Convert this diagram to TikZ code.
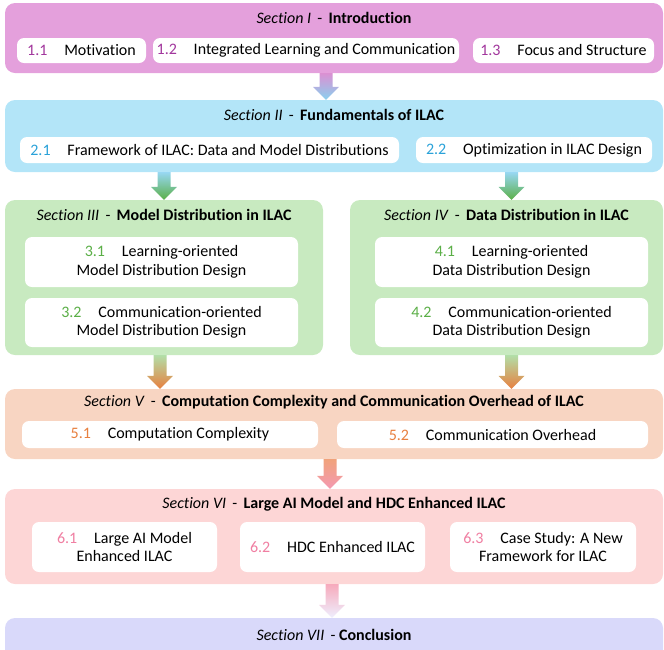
\documentclass[tikz,border=0pt]{standalone}
\usepackage{fontspec}
\setmainfont{Carlito}[Ligatures=NoCommon]
\usetikzlibrary{positioning,calc}

\definecolor{fillI}{HTML}{E4A0DC}
\definecolor{fillII}{HTML}{B3E5F8}
\definecolor{fillIII}{HTML}{C8EAC0}
\definecolor{fillV}{HTML}{F8D5C2}
\definecolor{fillVI}{HTML}{FDD6D6}
\definecolor{fillVII}{HTML}{D9D9FA}
\definecolor{numI}{HTML}{A2379D}
\definecolor{numII}{HTML}{2AA2D9}
\definecolor{numIII}{HTML}{5BAF47}
\definecolor{numV}{HTML}{E8803F}
\definecolor{numVI}{HTML}{F07FA2}

\tikzset{
  section/.style={rounded corners=10pt, inner sep=0pt, anchor=center},
  item/.style={fill=white, rounded corners=7pt, inner sep=0pt, align=center, anchor=center},
  title/.style={inner sep=0pt, anchor=center},
}

% block arrow between two points, shaded from #3 (top) to #4 (bottom)
\newcommand{\blockarrow}[4]{%
  \shade[top color=#3, bottom color=#4] let \p1=#1, \p2=#2 in
    (\x1-6.5pt,\y1) -- (\x1+6.5pt,\y1) -- (\x1+6.5pt,\y2+13pt) -- (\x1+13pt,\y2+13pt)
    -- (\x1,\y2) -- (\x1-13pt,\y2+13pt) -- (\x1-6.5pt,\y2+13pt) -- cycle;}

\newcommand{\num}[2]{{\color{#1}#2}\hspace{1.05em}}

\begin{document}
\begin{tikzpicture}[x=1pt, y=-1pt, font=\fontsize{16}{18.5}\selectfont]
    \useasboundingbox (0,0) rectangle (664,649);

    % section boxes
    \node[section, fill=fillI, minimum width=658pt, minimum height=70pt] (sI) at (334,38) {};
    \node[section, fill=fillII, minimum width=658pt, minimum height=72pt] (sII) at (334,136) {};
    \node[section, fill=fillIII, minimum width=318pt, minimum height=155pt] (sIII) at (164,277.5) {};
    \node[section, fill=fillIII, minimum width=313pt, minimum height=155pt] (sIV) at (506.5,277.5) {};
    \node[section, fill=fillV, minimum width=658pt, minimum height=70pt] (sV) at (334,424) {};
    \node[section, fill=fillVI, minimum width=658pt, minimum height=95pt] (sVI) at (334,536.5) {};
    \node[section, fill=fillVII, minimum width=658pt, minimum height=52pt] (sVII) at (334,644) {};

    % titles
    \node[title] (tI) at (334,18) {\textit{Section I}\, - \,\textbf{Introduction}};
    \node[title] (tII) at (334,115) {\textit{Section II}\, - \,\textbf{Fundamentals of ILAC}};
    \node[title] (tIII) at (164,215) {\textit{Section III}\, - \,\textbf{Model Distribution in ILAC}};
    \node[title] (tIV) at (506.5,215) {\textit{Section IV}\, - \,\textbf{Data Distribution in ILAC}};
    \node[title] (tV) at (334,402) {\textit{Section V}\, - \,\textbf{Computation Complexity and Communication Overhead of ILAC}};
    \node[title] (tVI) at (334,504) {\textit{Section VI}\, - \,\textbf{Large AI Model and HDC Enhanced ILAC}};
    \node[title] (tVII) at (334,635) {\textit{Section VII}\, - \textbf{Conclusion}};

    % items
    \node[item, minimum width=129pt, minimum height=25pt] (i11) at (81.5,50.5) {\num{numI}{1.1}Motivation};
    \node[item, minimum width=306pt, minimum height=25pt] (i12) at (306,50.5) {\num{numI}{1.2}Integrated Learning and Communication};
    \node[item, minimum width=181pt, minimum height=25pt] (i13) at (563.5,50.5) {\num{numI}{1.3}Focus and Structure};

    \node[item, minimum width=379pt, minimum height=26pt] (i21) at (209.5,150) {\num{numII}{2.1}Framework of ILAC: Data and Model Distributions};
    \node[item, minimum width=236pt, minimum height=26pt] (i22) at (534,150) {\num{numII}{2.2}Optimization in ILAC Design};

    \node[item, minimum width=273pt, minimum height=50pt] (i31) at (161.5,262) {\num{numIII}{3.1}Learning-oriented\\Model Distribution Design};
    \node[item, minimum width=273pt, minimum height=49pt] (i32) at (161.5,322.5) {\num{numIII}{3.2}Communication-oriented\\Model Distribution Design};
    \node[item, minimum width=273pt, minimum height=50pt] (i41) at (511.5,262) {\num{numIII}{4.1}Learning-oriented\\Data Distribution Design};
    \node[item, minimum width=273pt, minimum height=49pt] (i42) at (511.5,322.5) {\num{numIII}{4.2}Communication-oriented\\Data Distribution Design};

    \node[item, minimum width=296pt, minimum height=27pt] (i51) at (170,434.5) {\num{numV}{5.1}Computation Complexity};
    \node[item, minimum width=311pt, minimum height=27pt] (i52) at (492.5,434.5) {\num{numV}{5.2}Communication Overhead};

    \node[item, minimum width=185pt, minimum height=50pt] (i61) at (124.5,547) {\num{numVI}{6.1}Large AI Model\\Enhanced ILAC};
    \node[item, minimum width=185pt, minimum height=50pt] (i62) at (332.5,547) {\num{numVI}{6.2}HDC Enhanced ILAC};
    \node[item, minimum width=186pt, minimum height=50pt] (i63) at (543,547) {\num{numVI}{6.3}Case Study: A New\\Framework for ILAC};

    % arrows
    \blockarrow{([xshift=-8pt]sI.south)}{([xshift=-8pt]sII.north)}{fillI!85!numI}{fillII!70!numII};
    \blockarrow{(sII.south -| sIII)}{(sIII.north)}{fillII!80!numII}{numIII};
    \blockarrow{(sII.south -| i41)}{(sIV.north -| i41)}{fillII!80!numII}{numIII};
    \blockarrow{([xshift=-4pt]sIII.south)}{(sV.north -| sIII)}{fillIII!80!numIII}{numV};
    \blockarrow{(sIV.south -| i41)}{(sV.north -| i41)}{fillIII!80!numIII}{numV};
    \blockarrow{([xshift=-4pt]sV.south)}{([xshift=-4pt]sVI.north)}{numV!60!fillVI}{numVI!70!fillVI};
    \blockarrow{([xshift=-2pt]sVI.south)}{([xshift=-2pt]sVII.north)}{numVI!50!fillVI}{fillVII!80!blue!20};
\end{tikzpicture}
\end{document}
